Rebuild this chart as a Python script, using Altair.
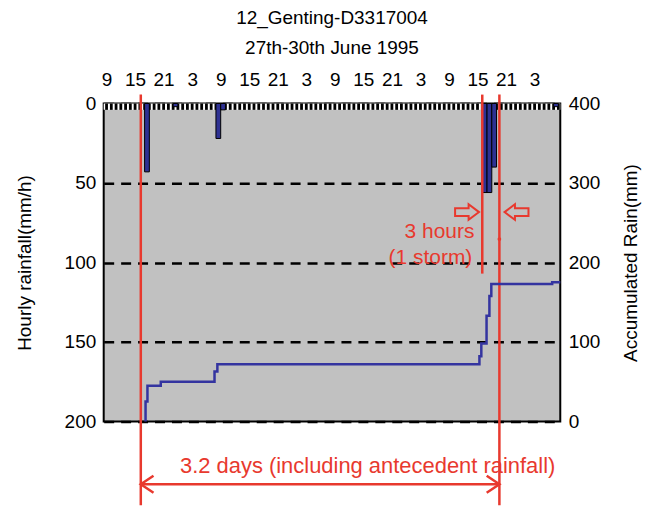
import altair as alt
import pandas as pd

# ---------------- data ----------------
# hourly rainfall (hour since 00:00 27 June, mm/h)
rain_hour = [17, 23, 32, 33, 88, 89, 90, 103]
rain_mmh = [43, 2, 22, 4, 56, 56, 40, 2]

# accumulated rainfall step curve (hour, mm)
cum_hour = [17.2, 17.2, 17.6, 20.4, 31.7, 32.3, 87.4, 87.8, 88.9, 89.5, 89.9, 102.7, 104.4]
cum_mm = [0, 25, 45, 50, 63, 72, 82, 98, 133, 158, 173, 175, 175]

# axis ticks
time_ticks = [9, 15, 21, 27, 33, 39, 45, 51, 57, 63, 69, 75, 81, 87, 93, 99]
comb_hours = list(range(9, 105))
rain_ticks = [0, 50, 100, 150, 200]
acc_ticks = [0, 100, 200, 300, 400]

# annotation positions (hour, mm/h scale)
red_lines_h = [16.2, 88.0, 91.6]
red_lines_top = [-5.6, -5.6, -5.6]
red_lines_bot = [252.6, 107.0, 252.6]
span_start, span_end, span_level = 16.2, 91.6, 239.5
span_label = "3.2 days (including antecedent rainfall)"
span_label_h, span_label_v = 63.9, 228
storm_labels = ["3 hours", "(1 storm)"]
storm_label_h = [79.0, 77.1]
storm_label_v = [81, 97]

FONT = "Liberation Sans"
RED = "#e8392e"

xscale = alt.Scale(domain=[8.4, 104.4], nice=False, zero=False)
yscale = alt.Scale(domain=[0, 200], reverse=True, nice=False)
cscale = alt.Scale(domain=[0, 400], nice=False)

xaxis = alt.Axis(orient="top", values=time_ticks, labelExpr="datum.value % 24",
                 ticks=False, domain=False, grid=False, labelFontSize=19,
                 labelPadding=14, labelOverlap=False, labelFlush=False,
                 labelFont=FONT, labelColor="black", title=None)
yaxis = alt.Axis(orient="left", values=rain_ticks, ticks=False, tickSize=0, domain=False,
                 grid=True, gridColor="black", gridDash=[10, 7], gridWidth=2.5,
                 labelFontSize=19, labelPadding=8, labelFont=FONT, labelColor="black",
                 title="Hourly rainfall(mm/h)", titleFontSize=19, titleFont=FONT,
                 titleFontWeight="normal", titleColor="black", titlePadding=30)
caxis = alt.Axis(orient="right", values=acc_ticks, ticks=False, tickSize=0, domain=False,
                 grid=False, labelFontSize=19, labelPadding=8, labelFont=FONT,
                 labelColor="black", title="Accumulated Rain(mm)", titleFontSize=19,
                 titleFont=FONT, titleFontWeight="normal", titleColor="black",
                 titleAngle=270, titleBaseline="top", titlePadding=22)

def X(f="h"):
    return alt.X(f"{f}:Q", scale=xscale, axis=xaxis)

def Y(f="v"):
    return alt.Y(f"{f}:Q", scale=yscale, axis=yaxis)

# ---------------- tables ----------------
bars_df = pd.DataFrame({"h": rain_hour, "h2": [h + 1 for h in rain_hour], "v": rain_mmh})
cum_df = pd.DataFrame({"h": cum_hour, "c": cum_mm, "i": list(range(len(cum_hour)))})
comb_df = pd.DataFrame({"h": comb_hours, "v": [0] * len(comb_hours), "v2": [4] * len(comb_hours)})
strip_df = pd.DataFrame({"h": [8.4], "h2": [104.4], "v": [0], "v2": [4]})
red_df = pd.DataFrame({"h": red_lines_h, "v": red_lines_top, "v2": red_lines_bot})
span_df = pd.DataFrame({"h": [span_start], "h2": [span_end], "v": [span_level]})
span_lab_df = pd.DataFrame({"h": [span_label_h], "v": [span_label_v], "t": [span_label]})
storm_df = pd.DataFrame({"h": storm_label_h, "v": storm_label_v, "t": storm_labels})
left_head_df = pd.DataFrame({"h": [span_start], "v": [span_level]})
right_head_df = pd.DataFrame({"h": [span_end], "v": [span_level]})
blk_r_df = pd.DataFrame({"h": [84.8], "v": [68.3]})
blk_l_df = pd.DataFrame({"h": [95.2], "v": [68.3]})
dot_df = pd.DataFrame({"h": [91.6], "v": [85.3]})

strip = alt.Chart(strip_df).mark_rect(color="white", clip=False).encode(
    x=X(), x2="h2:Q", y=Y(), y2="v2:Q")
comb = alt.Chart(comb_df).mark_rule(color="black", strokeWidth=2.8).encode(
    x=X(), y=Y(), y2="v2:Q")
bars = alt.Chart(bars_df).mark_bar(fill="#2e3192", stroke="black", strokeWidth=1).encode(
    x=X(), x2="h2:Q", y=Y(), y2=alt.datum(0))
red_rules = alt.Chart(red_df).mark_rule(color=RED, strokeWidth=2.5, clip=False).encode(
    x=X(), y=Y(), y2="v2:Q")
span = alt.Chart(span_df).mark_rule(color=RED, strokeWidth=2.5, clip=False).encode(
    x=X(), x2="h2:Q", y=Y())
lhead = alt.Chart(left_head_df).mark_point(
    shape="M 1.5 -1 L 0 0 L 1.5 1", size=289, filled=False, color=RED,
    strokeWidth=2.5, opacity=1, clip=False).encode(x=X(), y=Y())
rhead = alt.Chart(right_head_df).mark_point(
    shape="M -1.5 -1 L 0 0 L -1.5 1", size=289, filled=False, color=RED,
    strokeWidth=2.5, opacity=1, clip=False).encode(x=X(), y=Y())
span_text = alt.Chart(span_lab_df).mark_text(
    font=FONT, fontSize=22, color=RED, align="center", baseline="middle", clip=False).encode(
    x=X(), y=Y(), text="t:N")
storm_text = alt.Chart(storm_df).mark_text(
    font=FONT, fontSize=21, color=RED, align="center", baseline="middle").encode(
    x=X(), y=Y(), text="t:N")
blk_r = alt.Chart(blk_r_df).mark_point(
    shape="M -1 -0.33 L 0.13 -0.33 L 0.13 -0.65 L 1 0 L 0.13 0.65 L 0.13 0.33 L -1 0.33 Z",
    size=576, filled=False, color=RED, strokeWidth=2, opacity=1).encode(x=X(), y=Y())
blk_l = alt.Chart(blk_l_df).mark_point(
    shape="M 1 -0.33 L -0.13 -0.33 L -0.13 -0.65 L -1 0 L -0.13 0.65 L -0.13 0.33 L 1 0.33 Z",
    size=576, filled=False, color=RED, strokeWidth=2, opacity=1).encode(x=X(), y=Y())
dot = alt.Chart(dot_df).mark_point(shape="circle", size=14, filled=True, color=RED,
                                   opacity=1).encode(x=X(), y=Y())

rain_layer = alt.layer(strip, comb, bars, storm_text, blk_r, blk_l, dot,
                       red_rules, span, lhead, rhead, span_text)

cum_line = alt.Chart(cum_df).mark_line(interpolate="step-after", color="#3434a0",
                                       strokeWidth=2.5).encode(
    x=X(), y=alt.Y("c:Q", scale=cscale, axis=caxis), order=alt.Order("i:Q"))

chart = alt.layer(rain_layer, cum_line).resolve_scale(y="independent").properties(
    width=458, height=319,
    background="white",
    padding={"left": 7, "top": 0, "right": 5, "bottom": 5},
    title=alt.TitleParams(["12_Genting-D3317004", "27th-30th June 1995"], fontSize=19,
                          fontWeight="normal", font=FONT, color="black", lineHeight=30,
                          offset=13, anchor="middle"),
).configure_view(fill="#c1c1c1", stroke="black", strokeWidth=2)

chart.save("out.html", embed_options={"renderer": "svg", "actions": False})
